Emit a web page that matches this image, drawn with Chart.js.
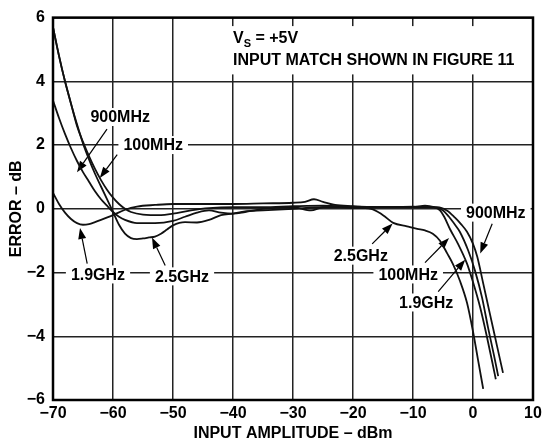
<!DOCTYPE html>
<html><head><meta charset="utf-8">
<script src="https://cdn.jsdelivr.net/npm/chart.js@4/dist/chart.umd.min.js"></script>
<style>html,body{margin:0;padding:0;background:#fff;}canvas{display:block;}</style>
</head><body>
<canvas id="c" width="547" height="442"></canvas>
<script>
// ---- tick values ----
const xTickValues = [-70, -60, -50, -40, -30, -20, -10, 0, 10];
const yTickValues = [-6, -4, -2, 0, 2, 4, 6];

// ---- series: 100MHz ----
const x100MHz = [-70,-69,-68,-67,-66,-65,-64,-63,-62,-61,-60,-59,-58,-57,-55,-52,-50,-47,-44,-40,-35,-30,-25,-20,-15,-10,-8,-6.5,-5.5,-4.8,-3.8,-2.5,-1,0,1.2,2.3,3.2,3.8];
const y100MHz = [5.7,4.8,4.0,3.3,2.6,2.1,1.65,1.25,0.9,0.6,0.35,0.15,0,-0.1,-0.18,-0.2,-0.15,-0.05,0.02,0.05,0.05,0.08,0.1,0.07,0.05,0.05,0.1,0.05,-0.05,-0.25,-0.65,-1.1,-1.72,-2.3,-3.1,-4.0,-4.8,-5.35];

// ---- series: 900MHz ----
const x900MHz = [-70,-69,-68,-67,-66,-65,-64,-63,-62,-61,-60,-59,-58,-56,-53,-50,-48,-46,-44,-42,-40,-38,-35,-30,-27,-25,-20,-15,-10,-7,-6,-4.3,-3,-2,-1,0,0.7,1.7,2.8,4,5];
const y900MHz = [3.4,2.85,2.35,1.9,1.5,1.15,0.85,0.55,0.3,0.1,-0.1,-0.25,-0.35,-0.45,-0.45,-0.38,-0.25,-0.12,-0.05,-0.12,-0.15,-0.1,0,0.05,-0.05,0.05,0.05,0.05,0.07,0.05,0.05,-0.06,-0.28,-0.48,-0.72,-1.1,-1.5,-2.34,-3.28,-4.3,-5.15];

// ---- series: 1.9GHz ----
const x1900MHz = [-70,-69,-68,-67,-66,-65,-64,-63,-62,-60,-58,-56,-53,-50,-45,-40,-35,-30,-28,-26.5,-25,-23,-20,-17,-14,-10,-7,-5,-4,-3,-2.2,-0.8,0.33,1.5,2.5,3.5,4.2];
const y1900MHz = [0.5,0.15,-0.12,-0.32,-0.45,-0.5,-0.48,-0.42,-0.35,-0.2,-0.03,0.07,0.12,0.15,0.15,0.15,0.17,0.19,0.22,0.3,0.22,0.12,0.08,0.05,0.05,0.05,0.05,-0.05,-0.25,-0.5,-0.72,-1.31,-1.94,-2.78,-3.72,-4.6,-5.25];

// ---- series: 2.5GHz ----
const x2500MHz = [-70,-69,-68,-67,-66,-65,-64,-63,-62,-61,-60,-59,-58,-57,-56,-55,-54,-53,-52,-51,-50,-48,-46,-44,-42,-40,-38,-35,-30,-25,-22,-20,-17,-15,-13.3,-11,-9.3,-8,-6.7,-5.5,-4.3,-3.3,-2.2,-1,0,0.8,1.7];
const y2500MHz = [5.7,4.8,4.0,3.3,2.65,2.05,1.55,1.1,0.7,0.3,-0.1,-0.5,-0.78,-0.92,-0.95,-0.93,-0.9,-0.87,-0.78,-0.65,-0.52,-0.42,-0.43,-0.35,-0.2,-0.15,-0.08,-0.05,0,0.05,0.05,0.03,0,-0.2,-0.44,-0.55,-0.63,-0.68,-0.78,-1.0,-1.4,-1.75,-2.25,-2.95,-3.85,-4.7,-5.65];

// ---- annotations (data coordinates) ----
const curveLabels = [
  { text: '900MHz', x: -58.8, y: 2.88, arrow: [-61, 2.5, -66, 1.15] },
  { text: '100MHz', x: -53.3, y: 2.0,  arrow: [-59.3, 1.7, -62.2, 0.97] },
  { text: '1.9GHz', x: -62.5, y: -2.06, arrow: [-64.3, -1.72, -65.5, -0.6] },
  { text: '2.5GHz', x: -48.5, y: -2.12, arrow: [-51.3, -1.78, -53.5, -0.9] },
  { text: '900MHz', x: 3.8,   y: -0.12, arrow: [3.2, -0.47, 1.2, -1.4] },
  { text: '2.5GHz', x: -18.7, y: -1.47, arrow: [-16.8, -1.1, -13.4, -0.46] },
  { text: '100MHz', x: -10.8, y: -2.06, arrow: [-8, -1.69, -4, -0.92] },
  { text: '1.9GHz', x: -7.8,  y: -2.94, arrow: [-5.8, -2.6, -1.3, -1.6] }
];
const noteLine1 = { x: -40, y: 5.2 };
const noteLine2 = { x: -40, y: 4.5, text: 'INPUT MATCH SHOWN IN FIGURE 11' };

const FONT = '"Liberation Sans", Arial, Helvetica, sans-serif';
const fmt = v => (v < 0 ? '\u2212' + Math.abs(v) : String(v));

function makeSet(xs, ys) {
  return {
    data: xs.map((x, i) => ({ x: x, y: ys[i] })),
    showLine: true, borderColor: '#111', borderWidth: 1.8,
    pointRadius: 0, fill: false, cubicInterpolationMode: 'monotone'
  };
}

const annotPlugin = {
  id: 'annot',
  beforeDatasetsDraw(chart) {
    const ctx = chart.ctx, xs = chart.scales.x, ys = chart.scales.y;
    ctx.save();
    ctx.font = 'bold 16px ' + FONT;
    ctx.textBaseline = 'middle';
    ctx.textAlign = 'center';
    // note text box
    const nx = xs.getPixelForValue(noteLine1.x), ny1 = ys.getPixelForValue(noteLine1.y), ny2 = ys.getPixelForValue(noteLine2.y);
    const w2 = ctx.measureText(noteLine2.text).width;
    ctx.fillStyle = '#fff';
    ctx.fillRect(nx - 3, ny1 - 17, w2 + 8, ny2 - ny1 + 26);
    // arrows
    ctx.strokeStyle = '#000'; ctx.fillStyle = '#000'; ctx.lineWidth = 1.2;
    curveLabels.forEach(l => {
      const x1 = xs.getPixelForValue(l.arrow[0]), y1 = ys.getPixelForValue(l.arrow[1]);
      const x2 = xs.getPixelForValue(l.arrow[2]), y2 = ys.getPixelForValue(l.arrow[3]);
      const a = Math.atan2(y2 - y1, x2 - x1), L = 11, H = 4;
      const bx = x2 - L * Math.cos(a), by = y2 - L * Math.sin(a);
      ctx.beginPath(); ctx.moveTo(x1, y1); ctx.lineTo(bx, by); ctx.stroke();
      ctx.beginPath();
      ctx.moveTo(x2, y2);
      ctx.lineTo(bx + H * Math.sin(a), by - H * Math.cos(a));
      ctx.lineTo(bx - H * Math.sin(a), by + H * Math.cos(a));
      ctx.closePath(); ctx.fill();
    });
    // label boxes + text
    curveLabels.forEach(l => {
      const cx = xs.getPixelForValue(l.x), cy = ys.getPixelForValue(l.y);
      const w = ctx.measureText(l.text).width;
      ctx.fillStyle = '#fff';
      ctx.fillRect(cx - w / 2 - 5, cy - 9, w + 10, 18);
      ctx.fillStyle = '#000';
      ctx.fillText(l.text, cx, cy + 1);
    });
    // note text
    ctx.textAlign = 'left'; ctx.textBaseline = 'alphabetic'; ctx.fillStyle = '#000';
    ctx.fillText('V', nx, ny1);
    let px = nx + ctx.measureText('V').width;
    ctx.font = 'bold 11px ' + FONT;
    ctx.fillText('S', px, ny1 + 4);
    px += ctx.measureText('S').width;
    ctx.font = 'bold 16px ' + FONT;
    ctx.fillText(' = +5V', px, ny1);
    ctx.fillText(noteLine2.text, nx, ny2);
    ctx.restore();
  },
  afterDatasetsDraw(chart) {
    const a = chart.chartArea, ctx = chart.ctx;
    ctx.save();
    ctx.strokeStyle = '#000'; ctx.lineWidth = 2.5;
    ctx.strokeRect(a.left, a.top, a.right - a.left, a.bottom - a.top);
    ctx.restore();
  }
};

const tickFont = { family: FONT, size: 16, weight: 'bold' };

new Chart(document.getElementById('c'), {
  type: 'scatter',
  data: {
    datasets: [
      makeSet(x100MHz, y100MHz),
      makeSet(x900MHz, y900MHz),
      makeSet(x1900MHz, y1900MHz),
      makeSet(x2500MHz, y2500MHz)
    ]
  },
  options: {
    responsive: false, animation: false, events: [],
    layout: { padding: { top: 16, right: 14, left: 0, bottom: 0 } },
    plugins: { legend: { display: false }, tooltip: { enabled: false } },
    scales: {
      x: {
        type: 'linear', min: -70, max: 10,
        afterBuildTicks: s => { s.ticks = xTickValues.map(v => ({ value: v })); },
        afterFit: s => { s.height = 42; },
        ticks: { callback: v => fmt(v), font: tickFont, color: '#000', padding: 4, maxRotation: 0, autoSkip: false },
        grid: { color: '#222', lineWidth: 1.5, drawTicks: false },
        border: { display: false },
        title: { display: true, text: 'INPUT AMPLITUDE \u2013 dBm', color: '#000', font: { family: FONT, size: 16, weight: 'bold', lineHeight: 1 }, padding: 0 }
      },
      y: {
        type: 'linear', min: -6, max: 6,
        afterBuildTicks: s => { s.ticks = yTickValues.map(v => ({ value: v })); },
        afterFit: s => { s.width = 53; },
        ticks: { callback: v => fmt(v), font: tickFont, color: '#000', padding: 8, autoSkip: false },
        grid: { color: '#222', lineWidth: 1.5, drawTicks: false },
        border: { display: false },
        title: { display: true, text: 'ERROR \u2013 dB', color: '#000', font: { family: FONT, size: 16, weight: 'bold', lineHeight: 1.2 }, padding: { top: 7, bottom: 0 } }
      }
    }
  },
  plugins: [annotPlugin]
});
</script>
</body></html>
